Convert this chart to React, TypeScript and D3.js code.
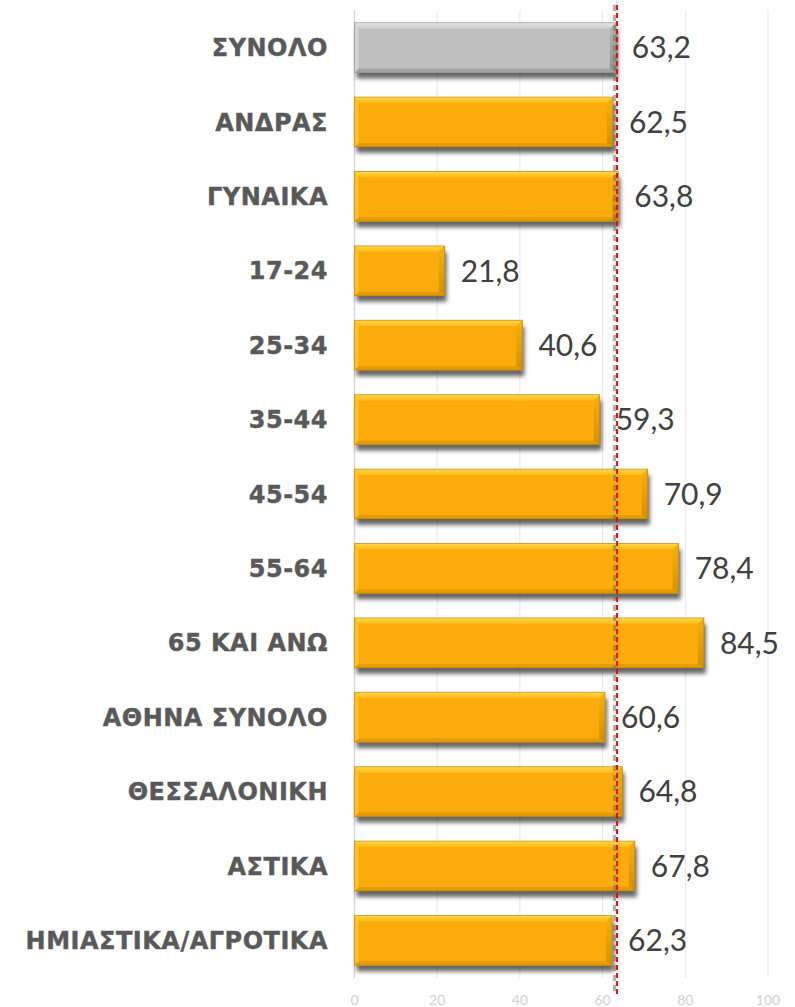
import React, { useEffect, useRef } from 'react';
import * as d3 from 'd3';

const categories = [
  'ΣΥΝΟΛΟ', 'ΑΝΔΡΑΣ', 'ΓΥΝΑΙΚΑ', '17-24', '25-34', '35-44', '45-54',
  '55-64', '65 ΚΑΙ ΑΝΩ', 'ΑΘΗΝΑ ΣΥΝΟΛΟ', 'ΘΕΣΣΑΛΟΝΙΚΗ', 'ΑΣΤΙΚΑ', 'ΗΜΙΑΣΤΙΚΑ/ΑΓΡΟΤΙΚΑ',
];
const values = [63.2, 62.5, 63.8, 21.8, 40.6, 59.3, 70.9, 78.4, 84.5, 60.6, 64.8, 67.8, 62.3];
const xTicks = [0, 20, 40, 60, 80, 100];
// two dashed reference lines near the total
const refLines = [
  { value: 62.9, color: '#5f755f', opacity: 0.55, width: 3, dash: '6,4' },
  { value: 63.5, color: '#ff0000', opacity: 1, width: 2, dash: '5,3' },
];

const W = 795;
const H = 1007;

const BarChart: React.FC = () => {
  const svgRef = useRef<SVGSVGElement | null>(null);

  useEffect(() => {
    if (!svgRef.current) return;
    const svg = d3.select(svgRef.current);
    svg.selectAll('*').remove();

    const margin = { top: 10, right: 27, bottom: 29, left: 354.5 };

    const x = d3.scaleLinear().domain([0, 100]).range([margin.left, W - margin.right]);
    const y = d3.scaleBand<string>()
      .domain(categories)
      .range([margin.top, H - margin.bottom])
      .paddingInner(0.33)
      .paddingOuter(0.17);

    const defs = svg.append('defs');
    const shadow = defs.append('filter').attr('id', 'shadow')
      .attr('x', '-5%').attr('y', '-20%').attr('width', '115%').attr('height', '170%');
    shadow.append('feDropShadow')
      .attr('dx', 2).attr('dy', 6).attr('stdDeviation', 2)
      .attr('flood-color', '#000').attr('flood-opacity', 0.6);

    const mkGrad = (id: string, stops: [number, string][], vertical = true) => {
      const g = defs.append('linearGradient').attr('id', id)
        .attr('x1', 0).attr('y1', 0).attr('x2', vertical ? 0 : 1).attr('y2', vertical ? 1 : 0);
      stops.forEach(([o, c]) => g.append('stop').attr('offset', o).attr('stop-color', c));
    };
    mkGrad('topO', [[0, '#ffd84a'], [1, '#ffbb14']]);
    mkGrad('topG', [[0, '#e6e6e6'], [1, '#cccccc']]);
    mkGrad('rightO', [[0, '#f5b20a'], [1, '#d48f00']]);
    mkGrad('rightG', [[0, '#b5b5b5'], [1, '#8f8f8f']]);

    // grid
    svg.append('g')
      .selectAll('line')
      .data(xTicks.slice(1))
      .join('line')
      .attr('x1', d => x(d)).attr('x2', d => x(d))
      .attr('y1', margin.top).attr('y2', H - margin.bottom)
      .attr('stroke', '#e6e6e6').attr('stroke-width', 1);

    svg.append('line')
      .attr('x1', x(0)).attr('x2', x(0))
      .attr('y1', margin.top).attr('y2', H - margin.bottom)
      .attr('stroke', '#d9d9d9').attr('stroke-width', 1.5);

    // tick labels
    svg.append('g')
      .selectAll('text')
      .data(xTicks)
      .join('text')
      .attr('x', d => x(d))
      .attr('y', H - 2)
      .attr('text-anchor', 'middle')
      .attr('font-family', 'Lato, sans-serif')
      .attr('font-size', 14)
      .attr('fill', '#d0d0d0')
      .text(d => d);

    // bars with bevel
    const palette = (i: number) => i === 0
      ? { main: '#bfbfbf', top: 'url(#topG)', left: '#d4d4d4', right: 'url(#rightG)', bottom: '#a3a3a3', edge: '#7f7f7f' }
      : { main: '#fcab0b', top: 'url(#topO)', left: '#ffc12a', right: 'url(#rightO)', bottom: '#e59c00', edge: '#a87000' };

    const bars = svg.append('g');
    categories.forEach((c, i) => {
      const col = palette(i);
      const x0 = x(0);
      const x1 = x(values[i]);
      const y0 = y(c)!;
      const h = y.bandwidth();
      const bt = 6, bb = 4, bl = 4, br = 6;
      const g = bars.append('g');
      g.append('rect')
        .attr('x', x0).attr('y', y0).attr('width', x1 - x0).attr('height', h)
        .attr('fill', col.main).attr('filter', 'url(#shadow)');
      g.append('polygon')
        .attr('points', `${x0},${y0} ${x1},${y0} ${x1 - br},${y0 + bt} ${x0 + bl},${y0 + bt}`)
        .attr('fill', col.top);
      g.append('polygon')
        .attr('points', `${x0},${y0 + h} ${x1},${y0 + h} ${x1 - br},${y0 + h - bb} ${x0 + bl},${y0 + h - bb}`)
        .attr('fill', col.bottom);
      g.append('polygon')
        .attr('points', `${x1},${y0} ${x1},${y0 + h} ${x1 - br},${y0 + h - bb} ${x1 - br},${y0 + bt}`)
        .attr('fill', col.right);
      g.append('polygon')
        .attr('points', `${x0},${y0} ${x0},${y0 + h} ${x0 + bl},${y0 + h - bb} ${x0 + bl},${y0 + bt}`)
        .attr('fill', col.left);
      g.append('rect')
        .attr('x', x0).attr('y', y0).attr('width', x1 - x0).attr('height', h)
        .attr('fill', 'none').attr('stroke', col.edge).attr('stroke-width', 1).attr('opacity', 0.5);
    });

    // reference lines
    refLines.forEach(r => {
      svg.append('line')
        .attr('x1', x(r.value)).attr('x2', x(r.value))
        .attr('y1', 5).attr('y2', H - 12)
        .attr('stroke', r.color).attr('stroke-opacity', r.opacity).attr('stroke-width', r.width)
        .attr('stroke-dasharray', r.dash);
    });

    // category labels
    svg.append('g')
      .selectAll('text')
      .data(categories)
      .join('text')
      .attr('x', 328)
      .attr('y', d => y(d)! + y.bandwidth() / 2)
      .attr('dy', '0.36em')
      .attr('text-anchor', 'end')
      .attr('font-family', '"DejaVu Sans", Verdana, sans-serif')
      .attr('font-weight', 'bold')
      .attr('font-size', 24)
      .attr('letter-spacing', 0.5)
      .attr('fill', '#595959')
      .attr('stroke', '#595959')
      .attr('stroke-width', 0.4)
      .text(d => d);

    // value labels
    svg.append('g')
      .selectAll('text')
      .data(values)
      .join('text')
      .attr('x', d => x(d) + 16)
      .attr('y', (d, i) => y(categories[i])! + y.bandwidth() / 2)
      .attr('dy', '0.36em')
      .attr('font-family', 'Lato, sans-serif')
      .attr('font-size', 30)
      .attr('fill', '#404040')
      .text(d => d3.format('.1f')(d).replace('.', ','));
  }, []);

  return <svg ref={svgRef} width={W} height={H} style={{ position: 'absolute', left: 0, top: 0, background: '#fff' }} />;
};

export default function App() {
  return <BarChart />;
}
